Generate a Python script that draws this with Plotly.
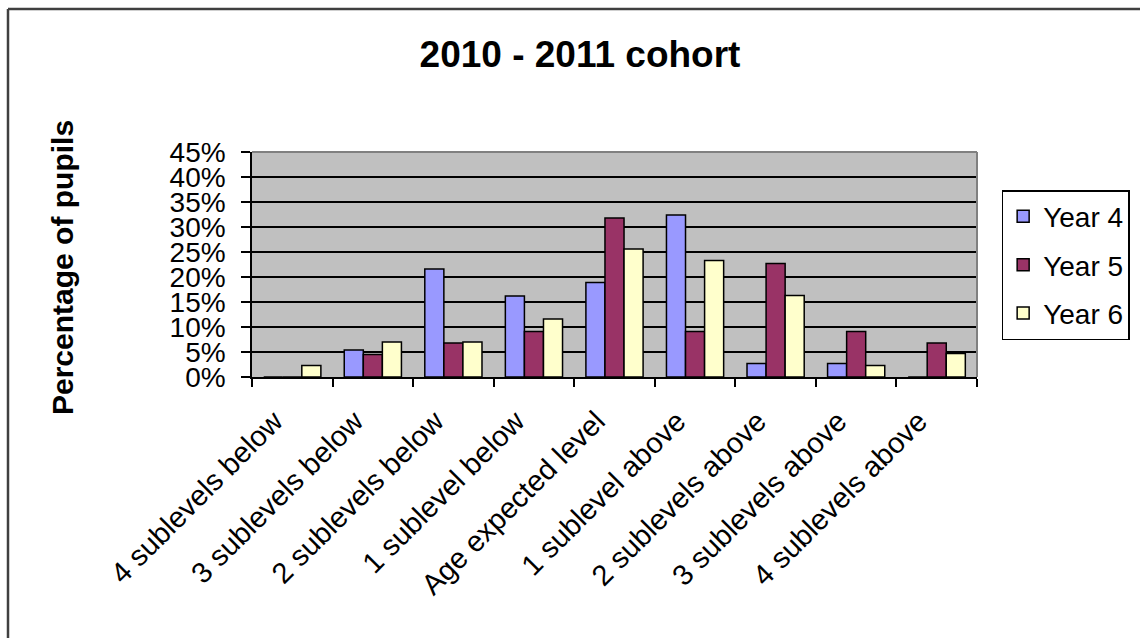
import plotly.graph_objects as go

# Attainment relative to the age-expected level
categories = [
    "4 sublevels below",
    "3 sublevels below",
    "2 sublevels below",
    "1 sublevel below",
    "Age expected level",
    "1 sublevel above",
    "2 sublevels above",
    "3 sublevels above",
    "4 sublevels above",
]

# Percentage of pupils in each band
year4 = [0, 5.4, 21.6, 16.2, 18.9, 32.4, 2.7, 2.7, 0]
year5 = [0, 4.5, 6.8, 9.1, 31.8, 9.1, 22.7, 9.1, 6.8]
year6 = [2.3, 7.0, 7.0, 11.6, 25.6, 23.3, 16.3, 2.3, 4.7]

series_names = ["Year 4", "Year 5", "Year 6"]
series_colors = ["#9999FF", "#993366", "#FFFFCC"]
y_ticks = [0, 5, 10, 15, 20, 25, 30, 35, 40, 45]
y_tick_text = [f"{v}%" for v in y_ticks]

FONT = "Arial, 'Liberation Sans', sans-serif"

fig = go.Figure()
for name, vals, col in zip(series_names, [year4, year5, year6], series_colors):
    fig.add_trace(go.Bar(
        x=categories, y=vals, name=name, legendgroup=name,
        marker=dict(color=col, line=dict(color="black", width=1.5)),
    ))

fig.update_layout(
    width=1140, height=638,
    margin=dict(l=252, r=163, t=152, b=261, autoexpand=False),
    paper_bgcolor="white",
    plot_bgcolor="#C0C0C0",
    barmode="group", bargap=0.29, bargroupgap=0,
    font=dict(family=FONT, color="black"),
    title=dict(
        text="<b>2010 - 2011 cohort</b>",
        x=580 / 1140, xanchor="center", xref="container",
        y=1 - 54 / 638, yanchor="middle", yref="container",
        font=dict(size=37, family=FONT, color="black"),
    ),
    showlegend=True,
    legend=dict(
        x=1.034, xanchor="left", y=0.831, yanchor="top",
        bgcolor="white", bordercolor="black", borderwidth=1.5,
        font=dict(size=28, family=FONT),
        tracegroupgap=9,
    ),
    xaxis=dict(
        type="category", tickangle=-45, tickson="boundaries",
        ticks="outside", ticklen=8, tickcolor="black", tickwidth=1.5,
        showline=True, linecolor="black", linewidth=1.5,
        showgrid=False, tickfont=dict(size=29, family=FONT),
        ticklabelstandoff=14, ticklabelshift=-18,
    ),
    yaxis=dict(
        range=[0, 45], tickvals=y_ticks, ticktext=y_tick_text,
        ticks="outside", ticklen=9, tickcolor="black", tickwidth=1.5,
        showline=True, linecolor="black", linewidth=1.5,
        showgrid=True, gridcolor="black", gridwidth=1.5,
        zeroline=False, tickfont=dict(size=28, family=FONT),
        ticklabelstandoff=10,
    ),
    annotations=[dict(
        text="<b>Percentage of pupils</b>", textangle=-90,
        xref="paper", yref="paper", x=(62 - 252) / 725, y=(377 - 267) / 225,
        xanchor="center", yanchor="middle", showarrow=False,
        font=dict(size=30, family=FONT, color="black"),
    )],
    shapes=[
        # gray top and right edges of the plot area
        dict(type="line", xref="paper", yref="paper", x0=0, x1=1, y0=1, y1=1,
             line=dict(color="#808080", width=2), layer="above"),
        dict(type="line", xref="paper", yref="paper", x0=1, x1=1, y0=0, y1=1,
             line=dict(color="#808080", width=2), layer="above"),
        # chart frame
        dict(type="line", xref="paper", yref="paper",
             x0=(8 - 252) / 725, x1=(8 - 252) / 725, y0=(377 - 9) / 225, y1=(377 - 640) / 225,
             line=dict(color="#404040", width=2.5), layer="above"),
        dict(type="line", xref="paper", yref="paper",
             x0=(8 - 252) / 725, x1=(1142 - 252) / 725, y0=(377 - 9) / 225, y1=(377 - 9) / 225,
             line=dict(color="#404040", width=2.5), layer="above"),
    ],
)

fig.write_html("out.html")
